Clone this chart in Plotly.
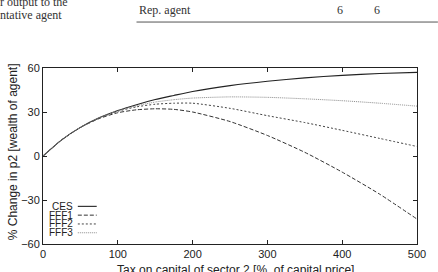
import plotly.graph_objects as go

# ---- data ----
tax = [0, 25, 50, 75, 100, 125, 150, 175, 200, 250, 300, 350, 400, 450, 500]
ces = [0, 11, 19.5, 26, 31, 35, 38.5, 41.3, 44, 48, 51, 53.3, 55, 56.2, 57]
fff1 = [0, 11, 19.5, 25.5, 29.5, 31.5, 32.2, 31.8, 30, 23.5, 14, 2.5, -11, -26, -43]
fff2 = [0, 11, 19.5, 25.8, 30.5, 33.5, 35.3, 36, 36, 32.5, 27.5, 22.8, 17.5, 12, 6.5]
fff3 = [0, 11, 19.5, 26, 30.8, 34.2, 36.8, 38.4, 39.5, 40.3, 40, 39, 37.7, 36, 34]
series_names = ["CES", "FFF1", "FFF2", "FFF3"]
x_ticks = [0, 100, 200, 300, 400, 500]
y_ticks = [-60, -30, 0, 30, 60]

styles = {
    "CES": dict(color="#222222", dash="solid", width=1.1),
    "FFF1": dict(color="#333333", dash="4px,2px", width=1),
    "FFF2": dict(color="#444444", dash="2px,2px", width=1),
    "FFF3": dict(color="#8a8a8a", dash="1px,1px", width=1),
}
data = {"CES": ces, "FFF1": fff1, "FFF2": fff2, "FFF3": fff3}

W, H = 438, 272
L, R, T, B = 43, 19, 68, 24
pw, ph = W - L - R, H - T - B

def px_x(p):
    return (p - L) / pw

def px_y(p):
    return (H - B - p) / ph

fig = go.Figure()
for name in series_names:
    fig.add_trace(go.Scatter(x=tax, y=data[name], mode="lines", name=name,
                             line=dict(shape="spline", smoothing=0.6, **styles[name]),
                             showlegend=False))

axis_common = dict(showline=True, linecolor="#222222", linewidth=1, mirror="ticks",
                   ticks="inside", ticklen=4, tickcolor="#222222", showgrid=False,
                   zeroline=False, tickfont=dict(family="Liberation Sans, Arial", size=11, color="#222222"))
fig.update_xaxes(range=[0, 500], tickvals=x_ticks, **axis_common)
fig.update_yaxes(range=[-60, 60], tickvals=y_ticks, **axis_common)

annotations = []
shapes = []
# manual gnuplot-style legend (text left, line sample right)
rows = [209.5, 218.5, 227.5, 236.5]
for name, ry in zip(series_names, rows):
    annotations.append(dict(x=px_x(74), y=px_y(ry), xref="paper", yref="paper",
                            text=name, showarrow=False, xanchor="right", yanchor="middle",
                            borderpad=0,
                            font=dict(family="Liberation Sans, Arial", size=10, color="#222222")))
    st = styles[name]
    shapes.append(dict(type="line", xref="paper", yref="paper",
                       x0=px_x(78), x1=px_x(97), y0=px_y(ry), y1=px_y(ry),
                       line=dict(color=st["color"], dash=st["dash"], width=st["width"])))

# axis titles
annotations.append(dict(x=px_x(13), y=px_y(154), xref="paper", yref="paper",
                        text="% Change in p2 [wealth of agent]", textangle=-90, showarrow=False,
                        xanchor="center", yanchor="middle",
                        font=dict(family="Liberation Sans, Arial", size=12, color="#222222")))
annotations.append(dict(x=px_x(237), y=px_y(265), xref="paper", yref="paper",
                        text="Tax on capital of sector 2 [%  of capital price]", showarrow=False,
                        xanchor="center", yanchor="top",
                        font=dict(family="Liberation Sans, Arial", size=12, color="#222222")))

# scanned page text above the chart
serif = dict(family="Liberation Serif, Times New Roman", size=12, color="#333333")
annotations.append(dict(x=px_x(-2), y=px_y(1), xref="paper", yref="paper", text="r output to the",
                        showarrow=False, xanchor="left", yanchor="middle", font=serif))
annotations.append(dict(x=px_x(-2), y=px_y(13.5), xref="paper", yref="paper", text="ntative agent",
                        showarrow=False, xanchor="left", yanchor="middle", font=serif))
annotations.append(dict(x=px_x(138), y=px_y(9), xref="paper", yref="paper", text="Rep. agent",
                        showarrow=False, xanchor="left", yanchor="middle", font=serif))
annotations.append(dict(x=px_x(342), y=px_y(9), xref="paper", yref="paper", text="6",
                        showarrow=False, xanchor="center", yanchor="middle", font=serif))
annotations.append(dict(x=px_x(379), y=px_y(9), xref="paper", yref="paper", text="6",
                        showarrow=False, xanchor="center", yanchor="middle", font=serif))
shapes.append(dict(type="line", xref="paper", yref="paper", x0=px_x(137), x1=px_x(440),
                   y0=px_y(21), y1=px_y(21), line=dict(color="#555555", width=1)))

fig.update_layout(width=W, height=H, margin=dict(l=L, r=R, t=T, b=B, pad=0),
                  paper_bgcolor="white", plot_bgcolor="white",
                  annotations=annotations, shapes=shapes, showlegend=False)

fig.write_html("out.html")
